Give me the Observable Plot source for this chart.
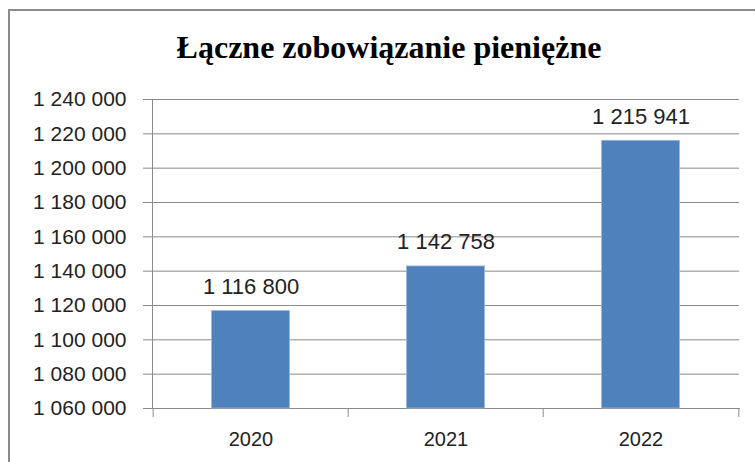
<!DOCTYPE html>
<html>
<head>
<meta charset="utf-8">
<script src="https://cdn.jsdelivr.net/npm/d3@7"></script>
<script src="https://cdn.jsdelivr.net/npm/@observablehq/plot@0.6"></script>
<style>
  html, body { margin: 0; padding: 0; background: #fff; }
  #wrap { position: relative; width: 755px; height: 462px; overflow: hidden; background: #fff; }
  #frame { position: absolute; left: 8px; top: 9px; width: 800px; height: 500px;
           border-left: 2px solid #8a8a8a; border-top: 2px solid #8a8a8a; box-sizing: border-box; }
  #title { position: absolute; left: 0; top: 29px; width: 778px; text-align: center;
           font-family: "Liberation Serif", "DejaVu Serif", serif; font-weight: bold; font-size: 32px;
           line-height: 36px; color: #000; }
  #chart { position: absolute; left: 0; top: 80px; }
</style>
</head>
<body>
<div id="wrap">
  <div id="frame"></div>
  <div id="title"></div>
  <div id="chart"></div>
</div>
<script>
const title = "Łączne zobowiązanie pieniężne";
const years = ["2020", "2021", "2022"];
const values = [1116800, 1142758, 1215941];
const yTicks = [1060000, 1080000, 1100000, 1120000, 1140000, 1160000, 1180000, 1200000, 1220000, 1240000];

document.getElementById("title").textContent = title;

const data = years.map((y, i) => ({year: y, value: values[i]}));
const loc = d3.formatLocale({decimal: ",", thousands: " ", grouping: [3], currency: ["", ""]});
const fmt = loc.format(",d");

const W = 755, H = 382, mL = 152, mR = 16, mT = 19, mB = 54;
const step = (W - mL - mR) / years.length;
const gray = "#8a8a8a";
const font = "Liberation Sans, Arial, sans-serif";

const chart = Plot.plot({
  width: W,
  height: H,
  marginLeft: mL,
  marginRight: mR,
  marginTop: mT,
  marginBottom: mB,
  style: {fontFamily: font, fontSize: "20px", color: "#222", background: "transparent"},
  x: {domain: years, padding: 0, axis: null, label: null},
  y: {domain: [yTicks[0], yTicks[yTicks.length - 1]], axis: null, label: null},
  marks: [
    Plot.gridY(yTicks, {stroke: gray, strokeOpacity: 1, strokeWidth: 1}),
    Plot.axisY(yTicks, {tickSize: 9, tickPadding: 17, stroke: gray, strokeOpacity: 1,
      tickFormat: fmt, fill: "#222", fontSize: 21, label: null}),
    Plot.frame({anchor: "left", stroke: gray, strokeWidth: 1}),
    Plot.frame({anchor: "bottom", stroke: gray, strokeWidth: 1}),
    Plot.axisX(years, {tickSize: 9, text: null, dx: -step / 2, stroke: gray, strokeOpacity: 1, label: null}),
    Plot.axisX([years[years.length - 1]], {tickSize: 9, text: null, dx: step / 2, stroke: gray, strokeOpacity: 1, label: null}),
    Plot.axisX(years, {tickSize: 0, tickPadding: 23, fill: "#222", fontSize: 20, label: null}),
    Plot.barY(data, {x: "year", y1: yTicks[0], y2: "value", fill: "#4F81BD",
      insetLeft: 58.5, insetRight: 58.5, stroke: "#9db8dc", strokeWidth: 0.8}),
    Plot.text(data, {x: "year", y: "value", text: d => fmt(d.value), dy: -17,
      lineAnchor: "bottom", fill: "#222", fontSize: 22})
  ]
});
document.getElementById("chart").append(chart);
</script>
</body>
</html>
